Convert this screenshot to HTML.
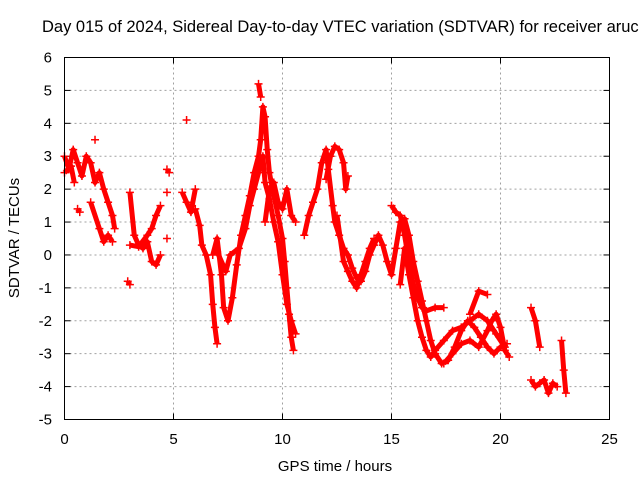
<!DOCTYPE html>
<html><head><meta charset="utf-8"><style>
body{margin:0;background:#fff;overflow:hidden;}
svg{display:block;font-family:"Liberation Sans",sans-serif;}
</style></head><body>
<svg id="chart" width="640" height="480">
<text x="42" y="32" font-size="16.5" fill="#000">Day 015 of 2024, Sidereal Day-to-day VTEC variation (SDTVAR) for receiver aruc</text>
<text x="335" y="471" font-size="15" text-anchor="middle">GPS time / hours</text>
<text transform="translate(19,238) rotate(-90)" font-size="15" text-anchor="middle">SDTVAR / TECUs</text>
<g id="grid"></g><g id="marks"></g>
<rect x="64.5" y="57.5" width="545" height="362" fill="none" stroke="#000"/>
</svg>
<script>
const xTicks=[0,5,10,15,20,25];
const yTicks=[-5,-4,-3,-2,-1,0,1,2,3,4,5,6];
const tracks=[
[[0,3.0],[0.2,2.6],[0.4,3.2],[0.6,2.8],[0.8,2.4],[1.0,3.0],[1.2,2.8],[1.4,2.2],[1.6,2.5],[1.8,2.0],[2.0,1.6],[2.2,1.2],[2.3,0.8]],
[[0,2.5],[0.3,2.7],[0.45,2.2]],[[0.6,1.4],[0.7,1.3]],[[1.4,3.5]],
[[1.2,1.6],[1.6,0.8],[1.8,0.4],[2.0,0.6],[2.2,0.4]],
[[2.9,-0.8],[3.0,-0.9]],
[[3.0,1.9],[3.2,0.6],[3.4,0.3],[3.6,0.2],[3.8,0.4],[4.0,-0.2],[4.2,-0.3],[4.4,0.0]],
[[3.0,0.3],[3.4,0.25],[3.8,0.6],[4.0,0.8],[4.2,1.2],[4.4,1.5]],
[[4.7,2.6],[4.8,2.5]],[[4.7,1.9]],[[4.7,0.5]],[[5.6,4.1]],
[[5.4,1.9],[5.6,1.6],[5.8,1.3],[6.0,2.0]],
[[6.0,1.4],[6.2,0.9],[6.3,0.3],[6.5,0.0],[6.7,-0.6],[6.8,-1.5],[6.9,-2.2],[7.0,-2.7]],
[[6.8,0.0],[7.0,0.5],[7.2,-0.6],[7.3,-1.6],[7.5,-2.0],[7.7,-1.3],[7.9,-0.3],[8.1,0.6],[8.3,1.2],[8.5,1.8],[8.7,2.5],[8.9,3.0],[9.0,3.5],[9.1,4.5],[9.2,4.2],[9.3,3.2],[9.4,2.5],[9.6,1.8],[9.8,1.2],[10.0,0.5],[10.1,-0.2],[10.2,-1.0],[10.3,-1.8],[10.4,-2.5],[10.5,-2.9]],
[[7.0,0.1],[7.4,-0.5],[7.6,0.0],[8.0,0.2],[8.3,0.8],[8.5,1.5],[8.7,2.0],[8.9,2.5],[9.1,3.0],[9.2,2.2],[9.4,1.7],[9.6,1.0],[9.8,0.4],[10.0,-0.6],[10.2,-1.5],[10.4,-2.0],[10.6,-2.4]],
[[8.9,5.2],[9.0,4.8]],
[[9.2,1.0],[9.4,2.0],[9.6,2.2],[9.8,1.6],[10.0,1.4],[10.2,2.0],[10.4,1.2],[10.6,1.0]],
[[11.0,0.6],[11.2,1.2],[11.4,1.6],[11.6,2.0],[11.8,2.8],[12.0,3.2],[12.1,2.6],[12.3,1.5],[12.4,1.0],[12.6,0.6],[12.8,0.2],[13.0,0.0],[13.2,-0.4],[13.4,-0.7],[13.6,-0.8],[13.8,-0.5],[14.0,0.0],[14.2,0.3],[14.4,0.6],[14.6,0.3],[14.8,-0.2],[15.0,-0.6],[15.2,0.2],[15.4,1.0],[15.6,1.1],[15.8,0.6],[16.0,-0.2],[16.2,-0.8],[16.4,-1.4],[16.6,-2.0],[16.8,-2.6],[17.0,-3.0],[17.3,-3.3],[17.6,-3.2],[17.9,-2.8],[18.2,-2.3],[18.5,-2.0],[18.8,-2.2],[19.1,-2.5],[19.4,-2.8],[19.7,-3.0],[20.0,-2.8],[20.3,-2.7]],
[[12.0,2.3],[12.2,3.0],[12.4,3.3],[12.6,3.2],[12.8,2.8],[12.9,2.0],[13.0,2.4]],
[[12.5,1.2],[12.8,-0.2],[13.0,-0.5],[13.2,-0.8],[13.4,-1.0],[13.6,-0.6],[13.8,-0.2],[14.0,0.2],[14.2,0.5]],
[[15.0,1.5],[15.2,1.3],[15.4,1.2],[15.6,0.6],[15.8,-0.2],[16.0,-0.9],[16.2,-1.3],[16.4,-1.6],[16.6,-1.7],[17.0,-1.6],[17.4,-1.6]],
[[15.4,-0.9],[15.6,0.2],[15.8,-0.6],[16.0,-1.3],[16.2,-2.0],[16.4,-2.5],[16.6,-2.9],[16.8,-3.1],[17.0,-2.9],[17.4,-2.6],[17.8,-2.3],[18.2,-2.2],[18.6,-2.0],[19.0,-1.8],[19.4,-2.0],[19.8,-2.4],[20.2,-2.8]],
[[17.4,-3.3],[17.8,-3.0],[18.2,-2.7],[18.6,-2.6],[19.0,-2.8],[19.4,-2.3],[19.6,-2.0],[19.8,-1.8],[20.0,-2.2],[20.2,-2.9],[20.4,-3.1]],
[[18.6,-1.8],[19.0,-1.1],[19.4,-1.2]],
[[21.4,-1.6],[21.6,-2.0],[21.8,-2.8]],
[[21.4,-3.8],[21.6,-4.0],[21.8,-3.9],[22.0,-3.8],[22.2,-4.2],[22.4,-3.9],[22.6,-4.0]],
[[22.8,-2.6],[22.9,-3.5],[23.0,-4.2]]
];
const X0=64.5,X1=609.5,Y0=419.5,Y1=57.5;
function sx(v){return X0+(v-0)/(25-0)*(X1-X0);}
function sy(v){return Y0-(v+5)/(6+5)*(Y0-Y1);}
const NS="http://www.w3.org/2000/svg";
const grid=document.getElementById('grid'),marks=document.getElementById('marks');
function mk(t,a,p){const e=document.createElementNS(NS,t);for(const k in a)e.setAttribute(k,a[k]);p.appendChild(e);return e;}
xTicks.forEach(v=>{const x=sx(v);
 if(v>0&&v<25){const g=mk('line',{x1:x,x2:x,y1:Y0,y2:Y1,stroke:'#a0a0a0','stroke-dasharray':'2,3'},grid);
 
 }
 mk('line',{x1:x,x2:x,y1:Y0,y2:Y0-6,stroke:'#000'},grid);
 mk('line',{x1:x,x2:x,y1:Y1,y2:Y1+6,stroke:'#000'},grid);
 const t=mk('text',{x:x,y:444,'font-size':15,'text-anchor':'middle'},grid);t.textContent=v;
 
 
});
yTicks.forEach(v=>{const y=sy(v);
 if(v>-5&&v<6){const g=mk('line',{x1:X0,x2:X1,y1:y,y2:y,stroke:'#a0a0a0','stroke-dasharray':'2,3'},grid);
 
 }
 mk('line',{x1:X0,x2:X0+6,y1:y,y2:y,stroke:'#000'},grid);
 mk('line',{x1:X1,x2:X1-6,y1:y,y2:y,stroke:'#000'},grid);
 const t=mk('text',{x:52,y:y+5,'font-size':15,'text-anchor':'end'},grid);t.textContent=v;
 
 
});
tracks.forEach(tr=>{
 if(tr.length>1){const p=mk('polyline',{points:tr.map(d=>sx(d[0])+','+sy(d[1])).join(' '),fill:'none',stroke:'#f00','stroke-width':5,'stroke-linejoin':'round'},marks);
 
 }
 tr.forEach(d=>{const x=sx(d[0]),y=sy(d[1]);
  const m=mk('path',{d:`M${x-4},${y}H${x+4}M${x},${y-4}V${y+4}`,stroke:'#f00','stroke-width':1.5},marks);
  
  
 });
});
</script>
</body></html>
